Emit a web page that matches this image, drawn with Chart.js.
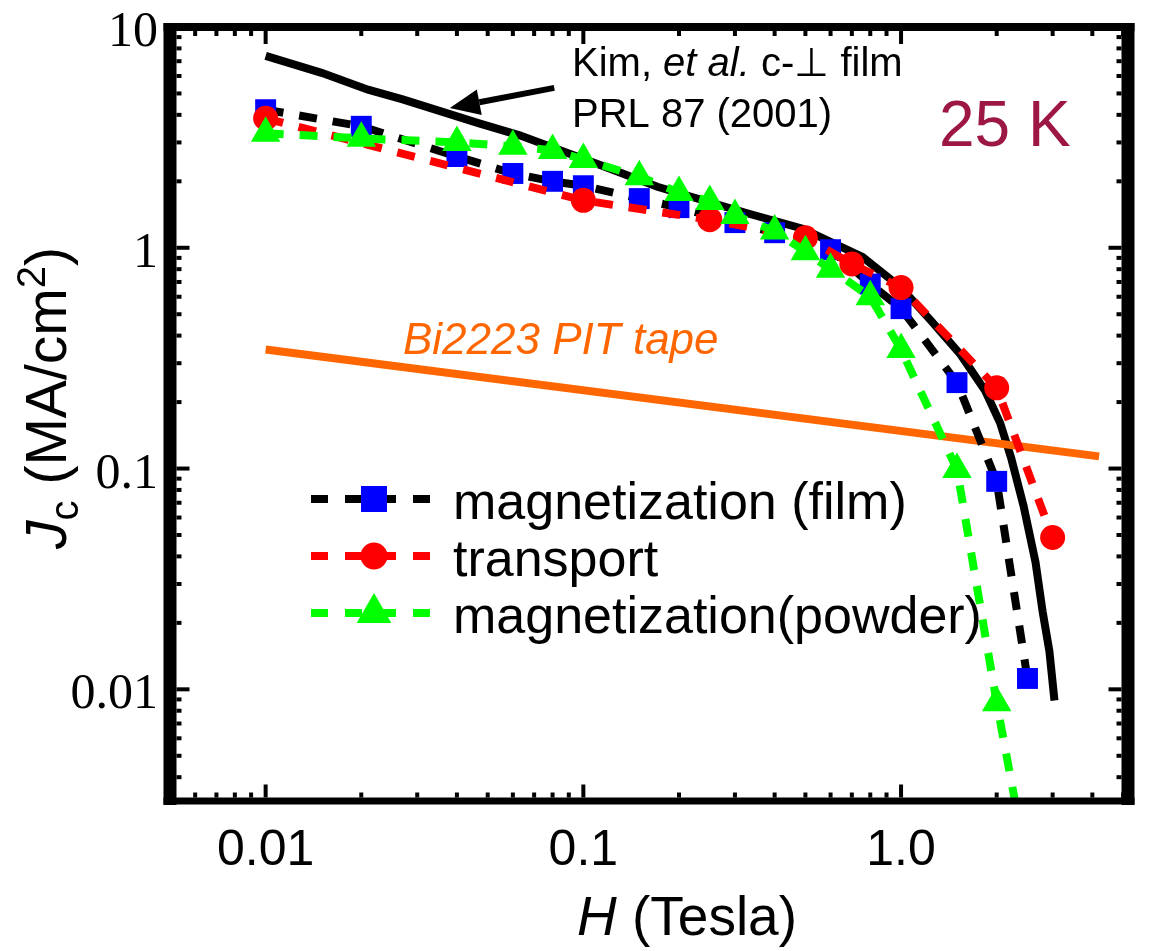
<!DOCTYPE html>
<html>
<head>
<meta charset="utf-8">
<script src="https://cdn.jsdelivr.net/npm/chart.js@4/dist/chart.umd.min.js"></script>
<style>
  html, body { margin: 0; padding: 0; background: #ffffff; }
  #wrap { width: 1153px; height: 951px; }
</style>
</head>
<body>
<div id="wrap"><canvas id="c" width="1153" height="951"></canvas></div>
<script>
// ---------------- data ----------------
const seriesNames = ['magnetization (film)', 'transport', 'magnetization(powder)', 'Kim, et al. c-\u22A5 film', 'Bi2223 PIT tape'];

const filmH  = [0.01, 0.02, 0.04, 0.06, 0.08, 0.1, 0.15, 0.2, 0.3, 0.4, 0.6, 0.8, 1.0, 1.5, 2.0, 2.5];
const filmJc = [4.22, 3.55, 2.59, 2.17, 2.00, 1.91, 1.67, 1.52, 1.30, 1.17, 0.98, 0.685, 0.53, 0.245, 0.0875, 0.0112];

const transportH  = [0.01, 0.1, 0.25, 0.5, 0.7, 1.0, 2.0, 3.0];
const transportJc = [3.86, 1.64, 1.34, 1.11, 0.845, 0.66, 0.232, 0.0487];

const powderH  = [0.01, 0.02, 0.04, 0.06, 0.08, 0.1, 0.15, 0.2, 0.25, 0.3, 0.4, 0.5, 0.6, 0.8, 1.0, 1.5, 2.0, 2.35];
const powderJc = [3.30, 3.13, 3.00, 2.88, 2.76, 2.51, 2.10, 1.78, 1.62, 1.40, 1.19, 0.96, 0.80, 0.60, 0.346, 0.099, 0.0087, 0.0025];

const kimH  = [0.01, 0.015, 0.021, 0.027, 0.047, 0.063, 0.114, 0.171, 0.33, 0.49, 0.756, 1.0, 1.24, 1.54, 1.84, 2.05, 2.22, 2.43, 2.65, 2.79, 2.93, 3.04];
const kimJc = [7.4, 6.2, 5.2, 4.7, 3.66, 3.23, 2.36, 1.89, 1.43, 1.22, 0.91, 0.66, 0.469, 0.328, 0.225, 0.161, 0.112, 0.0677, 0.0377, 0.0225, 0.0149, 0.0089];

const tapeH  = [0.01, 4.2];
const tapeJc = [0.346, 0.1135];

const xTickLabels = [[0.01, '0.01'], [0.1, '0.1'], [1, '1.0']];
const yTickLabels = [[10, '10'], [1, '1'], [0.1, '0.1'], [0.01, '0.01']];

const xRange = [0.005, 5.18];
const yRange = [0.00312, 10];

// annotation anchors (data coordinates)
const arrowTip  = [0.038, 4.3];
const arrowTail = [0.081, 5.3];

// ---------------- helpers ----------------
function pts(xs, ys) { return xs.map((v, i) => ({ x: v, y: ys[i] })); }
function labelFor(table, value) {
  for (const [v, t] of table) {
    if (Math.abs(Math.log10(value) - Math.log10(v)) < 1e-6) return t;
  }
  return '';
}

const SANS = "'Liberation Sans', Arial, Helvetica, sans-serif";
const SERIF = "'Liberation Serif', 'Times New Roman', serif";

function drawMarker(ctx, style, radius, x, y, color) {
  ctx.save();
  ctx.fillStyle = color;
  ctx.strokeStyle = color;
  if (Chart.helpers && Chart.helpers.drawPoint) {
    Chart.helpers.drawPoint(ctx, { pointStyle: style, radius: radius, borderWidth: 0, rotation: 0 }, x, y);
  } else {
    ctx.beginPath();
    if (style === 'rect') {
      const s = radius * Math.SQRT1_2;
      ctx.rect(x - s, y - s, 2 * s, 2 * s);
    } else if (style === 'triangle') {
      ctx.moveTo(x, y - radius);
      ctx.lineTo(x + radius * 0.866, y + radius / 2);
      ctx.lineTo(x - radius * 0.866, y + radius / 2);
      ctx.closePath();
    } else {
      ctx.arc(x, y, radius, 0, Math.PI * 2);
    }
    ctx.fill();
  }
  ctx.restore();
}

function runsWidth(ctx, runs) {
  let w = 0;
  for (const r of runs) { ctx.font = r.font; w += ctx.measureText(r.t).width; }
  return w;
}
function drawRuns(ctx, runs, x, y) {
  let cx = x;
  for (const r of runs) {
    ctx.font = r.font;
    ctx.fillText(r.t, cx, y + (r.dy || 0));
    cx += ctx.measureText(r.t).width;
  }
  return cx;
}

function logValues(min, max) {
  const out = [];
  for (let e = Math.floor(Math.log10(min)) - 1; e <= Math.ceil(Math.log10(max)); e++) {
    for (let s = 1; s <= 9; s++) {
      const v = s * Math.pow(10, e);
      if (v > min * 1.0001 && v < max * 0.9999) out.push({ v: v, major: s === 1 });
    }
  }
  return out;
}

// ---------------- overlay plugin: frame, inward ticks, titles, notes, legend ----------------
const overlay = {
  id: 'overlay',
  afterDraw(chart) {
    const ctx = chart.ctx;
    const a = chart.chartArea;
    const xs = chart.scales.x, ys = chart.scales.y;
    ctx.save();

    // thick frame
    ctx.fillStyle = '#000';
    ctx.fillRect(a.left - 6.5, a.top - 4, 13, a.bottom - a.top + 8);
    ctx.fillRect(a.right - 6.5, a.top - 4, 13, a.bottom - a.top + 8);
    ctx.fillRect(a.left - 6.5, a.top - 4, a.right - a.left + 13, 8);
    ctx.fillRect(a.left - 6.5, a.bottom - 3.5, a.right - a.left + 13, 7);

    // inward tick marks, positioned by the library scales
    for (const t of logValues(xRange[0], xRange[1])) {
      const px = xs.getPixelForValue(t.v);
      const len = t.major ? 13 : 5;
      ctx.fillRect(px - 2, a.bottom - 3.5 - len, 4, len);
      ctx.fillRect(px - 2, a.top + 4, 4, len);
    }
    for (const t of logValues(yRange[0], yRange[1])) {
      const py = ys.getPixelForValue(t.v);
      const len = t.major ? 13 : 5;
      ctx.fillRect(a.left + 6.5, py - 2, len, 4);
      ctx.fillRect(a.right - 6.5 - len, py - 2, len, 4);
    }

    ctx.fillStyle = '#000';
    ctx.textAlign = 'left';
    ctx.textBaseline = 'alphabetic';

    // y axis title (rotated)
    ctx.save();
    ctx.translate(66, 398);
    ctx.rotate(-Math.PI / 2);
    const yRuns = [
      { t: 'J', font: 'italic 57px ' + SANS },
      { t: 'c', font: '40px ' + SANS, dy: 12 },
      { t: ' (MA/cm', font: '57px ' + SANS },
      { t: '2', font: '40px ' + SANS, dy: -21 },
      { t: ')', font: '57px ' + SANS }
    ];
    drawRuns(ctx, yRuns, -runsWidth(ctx, yRuns) / 2, 0);
    ctx.restore();

    // x axis title
    const xRuns = [
      { t: 'H', font: 'italic 55px ' + SANS },
      { t: ' (Tesla)', font: '55px ' + SANS }
    ];
    drawRuns(ctx, xRuns, 687 - runsWidth(ctx, xRuns) / 2, 935);

    // Kim annotation
    drawRuns(ctx, [
      { t: 'Kim, ', font: '40px ' + SANS },
      { t: 'et al.', font: 'italic 40px ' + SANS },
      { t: ' c-\u22A5 film', font: '40px ' + SANS }
    ], 572, 76);
    ctx.font = '40px ' + SANS;
    ctx.fillText('PRL 87 (2001)', 572, 127);

    // arrow
    const tx = xs.getPixelForValue(arrowTip[0]), ty = ys.getPixelForValue(arrowTip[1]);
    const sx = xs.getPixelForValue(arrowTail[0]), sy = ys.getPixelForValue(arrowTail[1]);
    const ang = Math.atan2(ty - sy, tx - sx);
    const headLen = 30, headW = 13;
    const bx = tx - Math.cos(ang) * headLen, by = ty - Math.sin(ang) * headLen;
    ctx.strokeStyle = '#000';
    ctx.lineWidth = 6;
    ctx.setLineDash([]);
    ctx.beginPath(); ctx.moveTo(sx, sy); ctx.lineTo(bx, by); ctx.stroke();
    ctx.beginPath();
    ctx.moveTo(tx, ty);
    ctx.lineTo(bx + Math.sin(ang) * headW, by - Math.cos(ang) * headW);
    ctx.lineTo(bx - Math.sin(ang) * headW, by + Math.cos(ang) * headW);
    ctx.closePath(); ctx.fill();

    // temperature label
    ctx.fillStyle = '#9c1744';
    ctx.font = '64px ' + SANS;
    ctx.fillText('25 K', 939, 146);

    // tape label
    ctx.fillStyle = '#ff6600';
    ctx.font = 'italic 44px ' + SANS;
    ctx.fillText(seriesNames[4], 403, 354);

    // legend (dashed sample + marker + name), styles taken from datasets
    const rows = [0, 1, 2];
    const rowY = [499, 556, 613];
    const legendR = { rect: 18.4, circle: 13.5, triangle: 20 };
    rows.forEach((dsIndex, i) => {
      const ds = chart.data.datasets.find(d => d.label === seriesNames[dsIndex]);
      const y = rowY[i];
      ctx.save();
      ctx.strokeStyle = ds.borderColor;
      ctx.lineWidth = 8;
      ctx.lineCap = 'butt';
      ctx.setLineDash([17, 17]);
      ctx.beginPath(); ctx.moveTo(311, y); ctx.lineTo(433, y); ctx.stroke();
      ctx.restore();
      drawMarker(ctx, ds.pointStyle, legendR[ds.pointStyle], 374, y, ds.pointBackgroundColor);
      ctx.fillStyle = '#000';
      ctx.font = '52px ' + SANS;
      ctx.fillText(ds.label, 453, y + 20);
    });

    ctx.restore();
  }
};

// ---------------- chart ----------------
const dash = [18, 16];
new Chart(document.getElementById('c'), {
  type: 'line',
  data: {
    datasets: [
      {
        label: seriesNames[3], data: pts(kimH, kimJc), order: 5,
        borderColor: '#000000', borderWidth: 8, pointRadius: 0, fill: false, tension: 0
      },
      {
        label: seriesNames[4], data: pts(tapeH, tapeJc), order: 4,
        borderColor: '#ff6600', borderWidth: 8, pointRadius: 0, fill: false, tension: 0
      },
      {
        label: seriesNames[0], data: pts(filmH, filmJc), order: 3,
        borderColor: '#000000', borderWidth: 8, borderDash: dash,
        pointStyle: 'rect', pointRadius: 14.8, pointBorderWidth: 0,
        pointBackgroundColor: '#0000ff', pointBorderColor: '#0000ff', fill: false, tension: 0
      },
      {
        label: seriesNames[1], data: pts(transportH, transportJc), order: 2,
        borderColor: '#ff0000', borderWidth: 8, borderDash: dash,
        pointStyle: 'circle', pointRadius: 12.5, pointBorderWidth: 0,
        pointBackgroundColor: '#ff0000', pointBorderColor: '#ff0000', fill: false, tension: 0
      },
      {
        label: seriesNames[2], data: pts(powderH, powderJc), order: 1,
        borderColor: '#00ff00', borderWidth: 8, borderDash: dash,
        pointStyle: 'triangle', pointBorderWidth: 0,
        pointRadius: (c) => (c.raw && c.raw.y < yRange[0]) ? 0 : 17,
        pointBackgroundColor: '#00ff00', pointBorderColor: '#00ff00', fill: false, tension: 0
      }
    ]
  },
  options: {
    responsive: false,
    animation: false,
    events: [],
    layout: { padding: { top: 27, right: 13, left: 0, bottom: 0 } },
    plugins: { legend: { display: false }, tooltip: { enabled: false }, title: { display: false } },
    scales: {
      x: {
        type: 'logarithmic', position: 'bottom', min: xRange[0], max: xRange[1],
        afterFit: (s) => { s.height = 150; },
        grid: { display: false, drawTicks: false }, border: { display: false },
        ticks: {
          autoSkip: false, maxRotation: 0, minRotation: 0, padding: 25, color: '#000',
          font: { family: SANS, size: 50, lineHeight: 1 },
          callback: (v) => labelFor(xTickLabels, v)
        }
      },
      y: {
        type: 'logarithmic', position: 'left', min: yRange[0], max: yRange[1],
        afterFit: (s) => { s.width = 170; },
        grid: { display: false, drawTicks: false }, border: { display: false },
        ticks: {
          autoSkip: false, padding: 12, color: '#000', labelOffset: 6,
          font: { family: SERIF, size: 50, lineHeight: 0.5 },
          callback: (v) => labelFor(yTickLabels, v)
        }
      }
    }
  },
  plugins: [overlay]
});
</script>
</body>
</html>
